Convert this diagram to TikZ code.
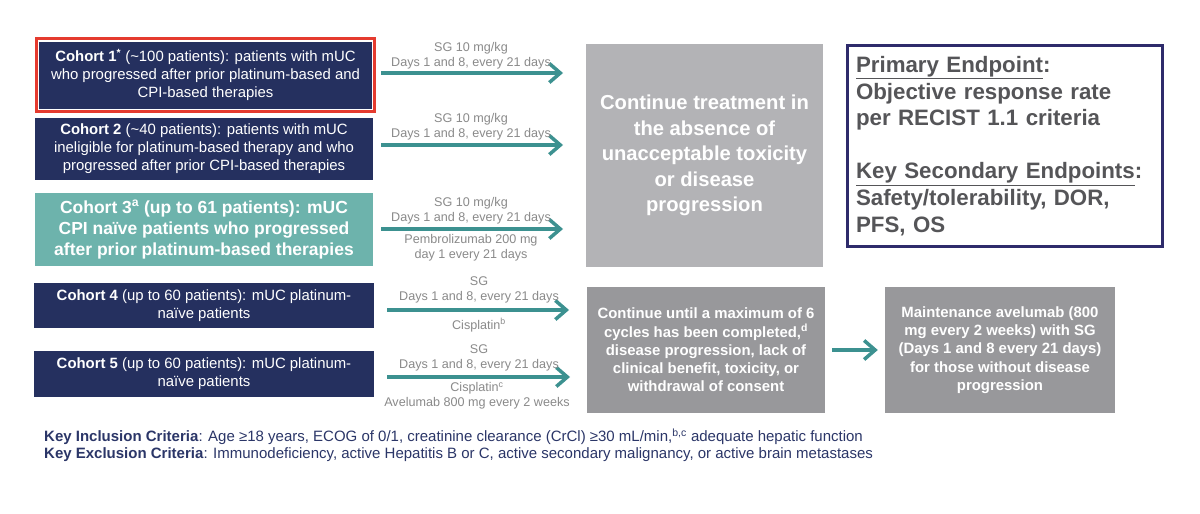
\documentclass[tikz,border=0pt]{standalone}
\usepackage{fontspec}
\setmainfont{Liberation Sans}
\usetikzlibrary{arrows.meta,fit}
\definecolor{navy}{HTML}{25305F}
\definecolor{tealbox}{HTML}{6DB3AC}
\definecolor{arrteal}{HTML}{3C9190}
\definecolor{lightgray}{HTML}{B3B3B6}
\definecolor{midgray}{HTML}{98989B}
\definecolor{hired}{HTML}{E53B2F}
\definecolor{epborder}{HTML}{2E2B6B}
\definecolor{eptext}{HTML}{555558}
\definecolor{lblgray}{HTML}{8A8A8A}
\definecolor{critnavy}{HTML}{2B3668}
\begin{document}
\begin{tikzpicture}[x=1pt,y=-1pt,
  cohort/.style={fill=navy, text=white, align=center, inner sep=0pt, font=\fontsize{14.9}{18}\selectfont},
  cohortB/.style={fill=tealbox, text=white, align=center, inner sep=0pt, font=\bfseries\fontsize{17.5}{21}\selectfont},
  graybox/.style={fill=lightgray, text=white, align=center, inner sep=0pt, font=\bfseries\fontsize{20.2}{25.5}\selectfont},
  smallgray/.style={fill=midgray, text=white, align=center, inner sep=0pt, font=\bfseries\fontsize{14.9}{18.3}\selectfont},
  lbl/.style={text=lblgray, align=center, inner sep=0pt, font=\fontsize{12.6}{15}\selectfont},
  arr/.style={draw=arrteal, line width=3.5pt, -{Straight Barb[length=11pt,width=19pt]}},
]
\useasboundingbox[fill=white] (0,0) rectangle (1200,514);

% cohort boxes
\node[cohort, minimum width=333pt, minimum height=67pt] (c1) at (205.5,75)
  {\textbf{Cohort 1\textsuperscript{*}} (\textasciitilde100 patients): patients with mUC\\who progressed after prior platinum-based and\\CPI-based therapies};
\node[draw=hired, line width=3pt, fit=(c1), inner sep=2.5pt] (c1frame) {};
\node[cohort, minimum width=338pt, minimum height=62pt] (c2) at (204,149)
  {\textbf{Cohort 2} (\textasciitilde40 patients): patients with mUC\\ineligible for platinum-based therapy and who\\progressed after prior CPI-based therapies};
\node[cohortB, minimum width=338pt, minimum height=73pt] (c3) at (204,229.5)
  {Cohort 3\textsuperscript{a} (up to 61 patients): mUC\\CPI na\"ive patients who progressed\\after prior platinum-based therapies};
\node[cohort, minimum width=340pt, minimum height=45pt] (c4) at (204,305.5)
  {\textbf{Cohort 4} (up to 60 patients): mUC platinum-\\na\"ive patients};
\node[cohort, minimum width=340pt, minimum height=46pt] (c5) at (204,374)
  {\textbf{Cohort 5} (up to 60 patients): mUC platinum-\\na\"ive patients};

% right side boxes
\node[graybox, minimum width=237pt, minimum height=223pt] (big) at (704.5,155.5)
  {Continue treatment in\\the absence of\\unacceptable toxicity\\or disease\\progression};
\node[smallgray, minimum width=238pt, minimum height=126pt] (bA) at (706,350)
  {Continue until a maximum of 6\\cycles has been completed,\textsuperscript{d}\\disease progression, lack of\\clinical benefit, toxicity, or\\withdrawal of consent};
\node[smallgray, minimum width=230pt, minimum height=126pt] (bB) at (1000,350)
  {Maintenance avelumab (800\\mg every 2 weeks) with SG\\(Days 1 and 8 every 21 days)\\for those without disease\\progression};

% endpoint box
\node[draw=epborder, line width=3pt, minimum width=315pt, minimum height=201pt, text width=297pt,
  inner xsep=9pt, align=left, text=eptext, font=\bfseries\fontsize{22.3}{26.6}\selectfont] (ep) at (1004.5,146)
  {\underline{Primary Endpoint}:\\Objective response rate\\per RECIST 1.1 criteria\\[26.6pt]\underline{Key Secondary Endpoints}:\\Safety/tolerability, DOR,\\PFS, OS};

% arrows
\coordinate (a1s) at (381,73); \coordinate (a1e) at (563,73);
\coordinate (a2s) at (381,145); \coordinate (a2e) at (563,145);
\coordinate (a3s) at (381,229); \coordinate (a3e) at (563,229);
\coordinate (a4s) at (387,310); \coordinate (a4e) at (569,310);
\coordinate (a5s) at (387,377); \coordinate (a5e) at (570,377);
\draw[arr] (a1s) -- (a1e);
\draw[arr] (a2s) -- (a2e);
\draw[arr] (a3s) -- (a3e);
\draw[arr] (a4s) -- (a4e);
\draw[arr] (a5s) -- (a5e);
\draw[arr] ([xshift=7pt]bA.east) -- ([xshift=-7pt]bB.west);

% arrow labels
\node[lbl] (l1) at (471,56) {SG 10 mg/kg\\Days 1 and 8, every 21 days};
\node[lbl] (l2) at (471,127) {SG 10 mg/kg\\Days 1 and 8, every 21 days};
\node[lbl] (l3a) at (471,211) {SG 10 mg/kg\\Days 1 and 8, every 21 days};
\node[lbl] (l3b) at (471,248) {Pembrolizumab 200 mg\\day 1 every 21 days};
\node[lbl] (l4a) at (479,290) {SG\\Days 1 and 8, every 21 days};
\node[lbl] (l4b) at (479,325) {Cisplatin\textsuperscript{b}};
\node[lbl] (l5a) at (479,358) {SG\\Days 1 and 8, every 21 days};
\node[lbl] (l5b) at (477,396) {Cisplatin\textsuperscript{c}\\Avelumab 800 mg every 2 weeks};

% criteria
\node[anchor=west, align=left, inner sep=0pt, text=critnavy, font=\fontsize{15}{17}\selectfont] (crit) at (44,445)
  {\textbf{Key Inclusion Criteria}: Age ≥18 years, ECOG of 0/1, creatinine clearance (CrCl) ≥30 mL/min,\textsuperscript{b,c} adequate hepatic function\\
   \textbf{Key Exclusion Criteria}: Immunodeficiency, active Hepatitis B or C, active secondary malignancy, or active brain metastases};
\end{tikzpicture}
\end{document}
